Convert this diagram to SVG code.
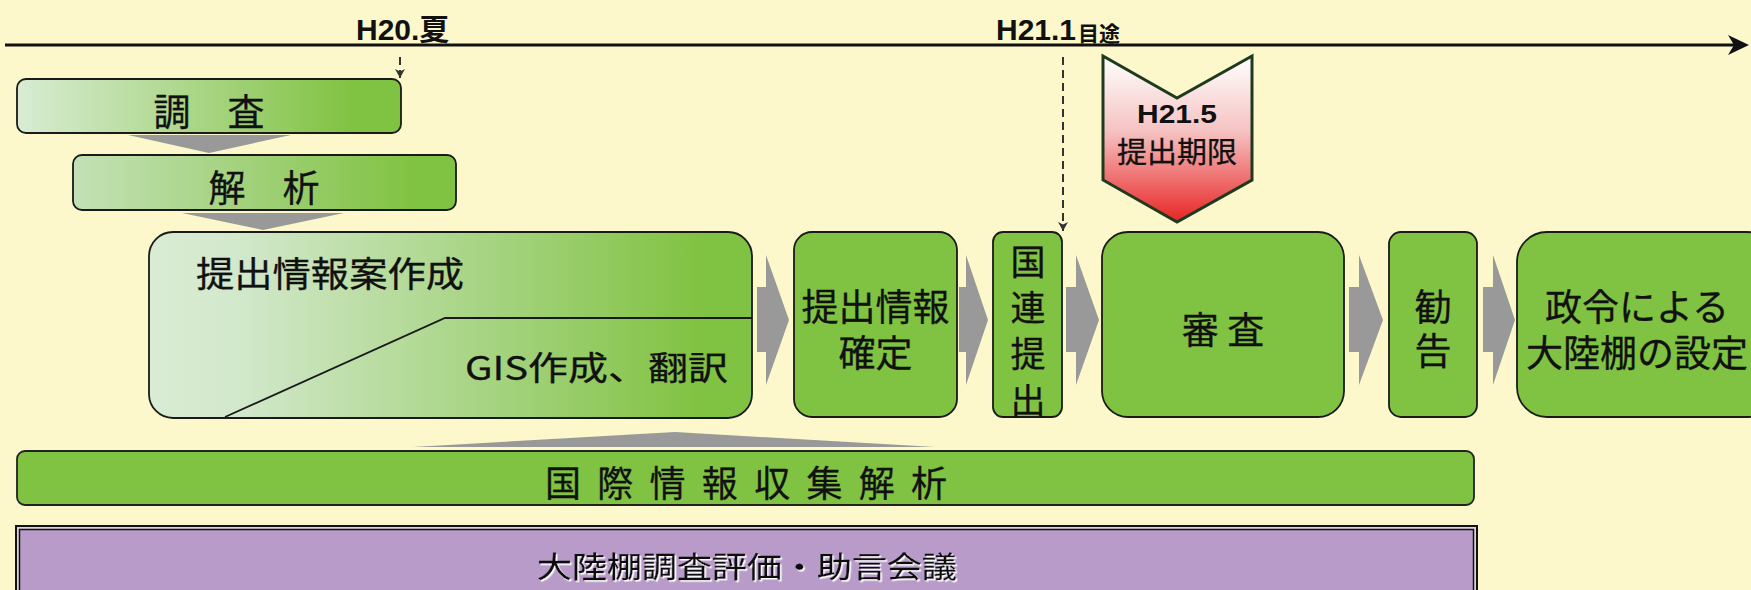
<svg xmlns="http://www.w3.org/2000/svg" width="1751" height="590" viewBox="0 0 1751 590">
<style>
.bx{stroke:#1a1a1a;stroke-width:1.8}
.gr{fill:#80c241}
.j{font-family:"Noto Sans CJK JP","Liberation Sans",sans-serif;font-weight:400;fill:#111;stroke:#111;stroke-width:0.3;dominant-baseline:central}
.l{font-family:"Liberation Sans","Noto Sans CJK JP",sans-serif;font-weight:bold;fill:#111}
.ar{fill:#999999}
.dash{stroke:#333;stroke-width:2;stroke-dasharray:8,5;fill:none}
</style>
<defs>
<linearGradient id="gSurvey" x1="0" y1="0" x2="1" y2="0"><stop offset="0" stop-color="#d9ecd4"/><stop offset="0.88" stop-color="#80c241"/></linearGradient>
<linearGradient id="gAnal" x1="0" y1="0" x2="1" y2="0"><stop offset="0" stop-color="#c4e1b6"/><stop offset="0.9" stop-color="#80c241"/></linearGradient>
<linearGradient id="gDraft" x1="0" y1="0" x2="1" y2="0"><stop offset="0" stop-color="#d9ecd4"/><stop offset="0.15" stop-color="#d2e8cb"/><stop offset="0.92" stop-color="#80c241"/></linearGradient>
<linearGradient id="gRed" x1="0" y1="0" x2="0" y2="1"><stop offset="0" stop-color="#ffffff"/><stop offset="0.45" stop-color="#f6c3c3"/><stop offset="1" stop-color="#e82424"/></linearGradient>
<marker id="mDash" markerUnits="userSpaceOnUse" markerWidth="10" markerHeight="10" refX="9" refY="5" orient="auto"><path d="M0,0 L9,5 L0,10 L2.5,5 Z" fill="#333"/></marker>
<filter id="wsh" x="-5%" y="-20%" width="110%" height="140%"><feDropShadow dx="1.5" dy="1.5" stdDeviation="0" flood-color="#ffffff" flood-opacity="1"/></filter>
</defs>
<rect x="0" y="0" width="1751" height="590" fill="#fcf8cc"/>

<g id="timeline">
<line x1="5" y1="45" x2="1738" y2="45" stroke="#111" stroke-width="3"/>
<polygon points="1749,45 1728,35 1734,45 1728,55" fill="#111"/>
<text class="l" x="356" y="40" font-size="30">H20.夏</text>
<text class="l" x="996" y="40" font-size="30">H21.1<tspan x="1078" y="41" font-size="21">目途</tspan></text>
</g>

<g id="connectors">
<line class="dash" x1="400" y1="57" x2="400" y2="78" marker-end="url(#mDash)"/>
<line class="dash" x1="1063" y1="57" x2="1063" y2="231" marker-end="url(#mDash)"/>
<polygon class="ar" points="128,135 291,135 209,153"/>
<polygon class="ar" points="182,213 344,213 263,230"/>
<polygon class="ar" points="413,447 935,447 675,432"/>
<polygon class="ar" points="757,287 766,287 766,255 789,320 766,385 766,352 757,352"/>
<polygon class="ar" points="959,287 966,287 966,255 988,320 966,385 966,352 959,352"/>
<polygon class="ar" points="1066,287 1076,287 1076,255 1099,320 1076,385 1076,352 1066,352"/>
<polygon class="ar" points="1349,287 1359,287 1359,255 1383,320 1359,385 1359,352 1349,352"/>
<polygon class="ar" points="1483,287 1493,287 1493,255 1515,320 1493,385 1493,352 1483,352"/>
</g>

<g id="deadline">
<path d="M1103,56 L1177,98 L1252,56 L1252,180 L1177,222 L1103,180 Z" fill="url(#gRed)" stroke="#1e3a1e" stroke-width="3" stroke-linejoin="miter"/>
<text class="l" x="1137" y="123" font-size="26" textLength="80" lengthAdjust="spacingAndGlyphs">H21.5</text>
<text class="j" x="1117" y="150" font-size="29" textLength="120" lengthAdjust="spacingAndGlyphs">提出期限</text>
</g>

<g id="survey">
<rect class="bx" x="17" y="79" width="384" height="54" rx="9" fill="url(#gSurvey)"/>
<text class="j" x="209" y="110" font-size="37" text-anchor="middle">調　査</text>
</g>

<g id="analysis">
<rect class="bx" x="73" y="155" width="383" height="55" rx="9" fill="url(#gAnal)"/>
<text class="j" x="264" y="186" font-size="37" text-anchor="middle">解　析</text>
</g>

<g id="draft">
<rect class="bx" x="149" y="232" width="603" height="186" rx="24" fill="url(#gDraft)"/>
<path d="M752,318 H445 L225,417" fill="none" stroke="#1a1a1a" stroke-width="1.8"/>
<text class="j" x="196" y="271" font-size="35" textLength="268" lengthAdjust="spacingAndGlyphs">提出情報案作成</text>
<text class="j" x="465" y="366" font-size="33" textLength="263" lengthAdjust="spacingAndGlyphs">GIS作成、翻訳</text>
</g>

<g id="finalize">
<rect class="bx gr" x="794" y="232" width="163" height="185" rx="18"/>
<text class="j" font-size="37" text-anchor="middle"><tspan x="875.5" y="305">提出情報</tspan><tspan x="875.5" y="351">確定</tspan></text>
</g>

<g id="un-submit">
<rect class="bx gr" x="993" y="232" width="69" height="185" rx="10"/>
<text class="j" font-size="35" text-anchor="middle"><tspan x="1028" y="259">国</tspan><tspan x="1028" y="305">連</tspan><tspan x="1028" y="351">提</tspan><tspan x="1028" y="398">出</tspan></text>
</g>

<g id="review">
<rect class="bx gr" x="1102" y="232" width="242" height="185" rx="26"/>
<text class="j" x="1223" y="328" font-size="37" text-anchor="middle">審 査</text>
</g>

<g id="recommend">
<rect class="bx gr" x="1389" y="232" width="88" height="185" rx="12"/>
<text class="j" font-size="37" text-anchor="middle"><tspan x="1433" y="305">勧</tspan><tspan x="1433" y="349">告</tspan></text>
</g>

<g id="ordinance">
<rect class="bx gr" x="1517" y="232" width="260" height="185" rx="30"/>
<text class="j" font-size="37" text-anchor="middle"><tspan x="1637" y="305">政令による</tspan><tspan x="1637" y="351">大陸棚の設定</tspan></text>
</g>

<g id="intl-info">
<rect x="17" y="451" width="1457" height="54" rx="8" fill="#80c241" stroke="#222" stroke-width="1.8"/>
<text class="j" x="545" y="481" font-size="36" textLength="402" lengthAdjust="spacing">国際情報収集解析</text>
</g>

<g id="council">
<rect x="16" y="526" width="1461" height="80" fill="#dcd6dc" stroke="#111" stroke-width="2"/>
<rect x="19.5" y="529.5" width="1454" height="80" fill="#b89bc9" stroke="#111" stroke-width="1.5"/>
<text class="j" x="537" y="565" font-size="29" textLength="420" lengthAdjust="spacingAndGlyphs" filter="url(#wsh)">大陸棚調査評価・助言会議</text>
</g>
</svg>
